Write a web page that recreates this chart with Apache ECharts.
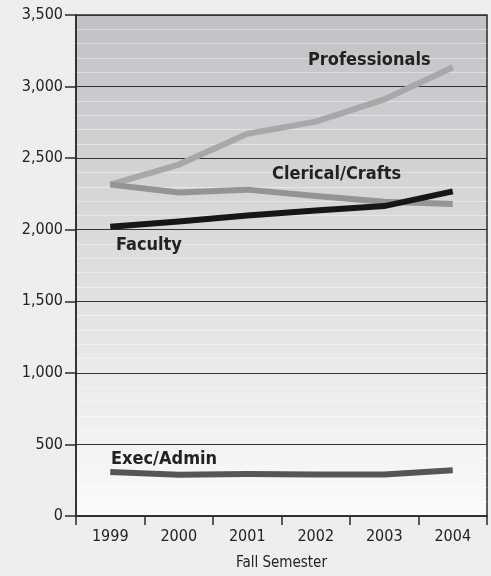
<!DOCTYPE html>
<html><head><meta charset="utf-8">
<script src="https://cdn.jsdelivr.net/npm/echarts@6/dist/echarts.min.js"></script>
<style>html,body{margin:0;padding:0;background:#eeeeee;}#c{width:491px;height:576px;}</style>
</head><body><div id="c"></div>
<script>
var years = ['1999','2000','2001','2002','2003','2004'];
var professionals = [2315, 2455, 2670, 2755, 2910, 3135];
var clerical = [2315, 2260, 2280, 2235, 2195, 2180];
var faculty = [2020, 2058, 2100, 2135, 2165, 2268];
var execAdmin = [308, 288, 294, 290, 290, 320];
var yTicks = [0, 500, 1000, 1500, 2000, 2500, 3000, 3500];

var FONT = '"DejaVu Sans Condensed", "Liberation Sans Narrow", sans-serif';
var chart = echarts.init(document.getElementById('c'), null, {renderer: 'canvas'});
function line(name, data, color) {
  return {name: name, type: 'line', data: data, symbol: 'none', smooth: false,
    lineStyle: {color: color, width: 6, cap: 'butt', join: 'miter'}, z: 3};
}
function lbl(text, x, y) {
  return {type: 'text', left: x, top: y, z: 10,
    style: {text: text, font: 'bold 18px ' + FONT, fill: '#222', stroke: null, lineWidth: 0}};
}
chart.setOption({
  backgroundColor: '#eeeeee',
  animation: false,
  grid: {left: 76, right: 4, top: 15, bottom: 59, show: true,
    borderColor: '#2a2a2a', borderWidth: 1.5,
    backgroundColor: new echarts.graphic.LinearGradient(0, 0, 0, 1, [
      {offset: 0, color: '#c1c2c5'},
      {offset: 0.45, color: '#dadbdc'},
      {offset: 1, color: '#fbfbfb'}
    ])},
  xAxis: {type: 'category', data: years, boundaryGap: true,
    name: 'Fall Semester', nameLocation: 'middle', nameGap: 40,
    nameTextStyle: {fontFamily: FONT, fontSize: 15, color: '#222'},
    axisLine: {lineStyle: {color: '#2a2a2a', width: 1.5}},
    axisTick: {show: true, length: 9, inside: false, lineStyle: {color: '#2a2a2a', width: 1.5}},
    axisLabel: {fontFamily: FONT, fontSize: 16, color: '#222', margin: 13},
    splitLine: {show: false}},
  yAxis: {type: 'value', min: yTicks[0], max: yTicks[yTicks.length - 1], interval: 500,
    axisLine: {show: true, lineStyle: {color: '#2a2a2a', width: 1.5}},
    axisTick: {show: true, length: 11, lineStyle: {color: '#2a2a2a', width: 1.5}},
    axisLabel: {fontFamily: FONT, fontSize: 16, color: '#222', margin: 13,
      formatter: function (v) { return v.toLocaleString('en-US'); }},
    splitLine: {show: true, lineStyle: {color: '#333', width: 1}},
    minorTick: {show: false, splitNumber: 5},
    minorSplitLine: {show: true, lineStyle: {color: 'rgba(255,255,255,0.4)', width: 1}}},
  series: [
    line('Professionals', professionals, '#a7a8aa'),
    line('Clerical/Crafts', clerical, '#939496'),
    line('Exec/Admin', execAdmin, '#555658'),
    line('Faculty', faculty, '#161616')
  ],
  graphic: [
    lbl('Professionals', 308, 51),
    lbl('Clerical/Crafts', 272, 165),
    lbl('Faculty', 116, 236),
    lbl('Exec/Admin', 111, 450)
  ]
});
</script></body></html>
